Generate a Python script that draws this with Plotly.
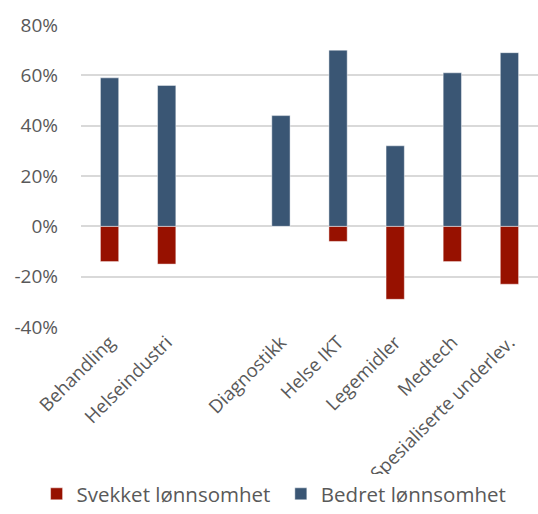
import plotly.graph_objects as go

# Segments (the blank entry leaves a gap between the two groups)
categories = ["Behandling", "Helseindustri", " ", "Diagnostikk", "Helse IKT",
              "Legemidler", "Medtech", "Spesialiserte underlev."]
svekket = [-14, -15, None, 0, -6, -29, -14, -23]
bedret = [59, 56, None, 44, 70, 32, 61, 69]
y_ticks = [-40, -20, 0, 20, 40, 60, 80]
y_labels = [f"{v}%" for v in y_ticks]

RED = "#971100"
BLUE = "#3A5674"
TEXT = "#595959"
FONT = "Open Sans"

fig = go.Figure()
fig.add_trace(go.Bar(
    x=categories, y=svekket, name="Svekket lønnsomhet",
    marker=dict(color=RED, line=dict(color="rgba(255,255,255,0.45)", width=1)),
    width=0.32, legend="legend",
))
fig.add_trace(go.Bar(
    x=categories, y=bedret, name="Bedret lønnsomhet",
    marker=dict(color=BLUE, line=dict(color="rgba(255,255,255,0.45)", width=1)),
    width=0.32, legend="legend2",
))

legend_style = dict(
    orientation="h", xanchor="left",
    xref="container", yref="container", y=-0.032, yanchor="bottom",
    font=dict(size=20.5, color=TEXT), itemwidth=30,
)

fig.update_layout(
    width=538, height=514,
    barmode="relative",
    plot_bgcolor="white", paper_bgcolor="white",
    margin=dict(l=81, r=0, t=25, b=187),
    font=dict(family=FONT, color=TEXT, size=18),
    showlegend=True,
    legend=dict(x=0.068, **legend_style),
    legend2=dict(x=0.522, **legend_style),
    xaxis=dict(
        type="category", categoryorder="array", categoryarray=categories,
        tickangle=-45, showgrid=False, showline=False, ticks="",
        tickfont=dict(size=18.5, color=TEXT), automargin=False,
    ),
    yaxis=dict(
        range=[-40, 80], tickvals=y_ticks, ticktext=y_labels,
        showgrid=True, gridcolor="#d9d9d9", gridwidth=1.5,
        zeroline=True, zerolinecolor="#d9d9d9", zerolinewidth=1.5,
        showline=False, ticks="", tickfont=dict(size=19, color=TEXT),
        ticklabelstandoff=22, automargin=False,
    ),
)

fig.write_html("out.html")
